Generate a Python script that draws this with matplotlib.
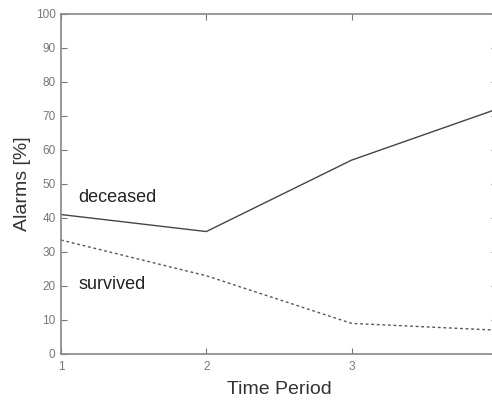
import matplotlib
matplotlib.use("Agg")
import matplotlib.pyplot as plt

periods = [1, 2, 3, 4]
deceased = [41, 36, 57, 72]
survived = [33.5, 23, 9, 7]
y_ticks = [0, 10, 20, 30, 40, 50, 60, 70, 80, 90, 100]

plt.rcParams['font.family'] = ['Liberation Sans', 'DejaVu Sans']

fig = plt.figure(figsize=(4.92, 4.03), dpi=100)
ax = fig.add_axes([0.124, 0.1216, 0.886, 0.844])

ax.plot(periods, deceased, color='#444444', lw=1.0, ls='-')
ax.plot(periods, survived, color='#555555', lw=1.0, ls=(0, (2, 2)))

ax.set_xlim(1, 4)
ax.set_ylim(0, 100)
ax.set_xticks(periods)
ax.set_yticks(y_ticks)

for s in ax.spines.values():
    s.set_color('#888888')
    s.set_linewidth(1.2)
ax.tick_params(direction='in', length=4, width=0.8, color='#777777',
               labelsize=8.5, labelcolor='#777777', top=True, right=True)
ax.tick_params(axis='x', pad=5)
ax.tick_params(axis='y', pad=4)

ax.text(1.12, 46, 'deceased', fontsize=13, color='#222222', va='center')
ax.text(1.12, 20.5, 'survived', fontsize=13, color='#222222', va='center')

ax.set_xlabel('Time Period', fontsize=14, color='#333333', labelpad=6)
ax.set_ylabel('Alarms [%]', fontsize=14, color='#333333', labelpad=3)

fig.savefig('out.png', dpi=100)
